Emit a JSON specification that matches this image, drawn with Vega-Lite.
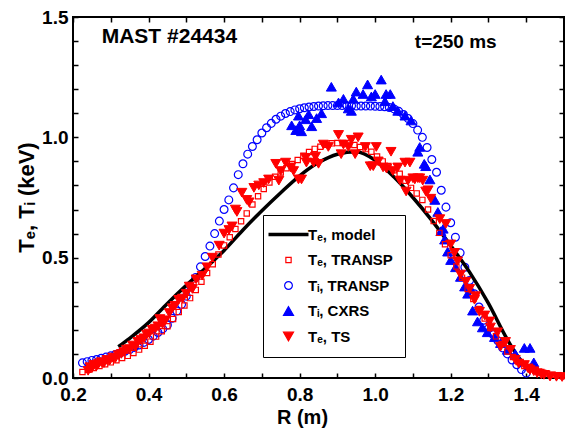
{
"$schema": "https://vega.github.io/schema/vega-lite/v6.json",
"width": 491, "height": 361,
"autosize": {"type": "none"},
"padding": {"left": 73, "top": 17, "right": 1, "bottom": 54},
"background": "white",
"config": {
  "view": {"stroke": "black", "strokeWidth": 2},
  "axis": {"domain": false, "grid": false, "ticks": true, "tickColor": "black", "tickWidth": 1.5, "tickSize": -5,
    "labelFont": "Liberation Sans", "labelFontWeight": "bold", "labelFontSize": 19, "labelColor": "black",
    "titleFont": "Liberation Sans", "titleFontWeight": "bold", "titleColor": "black", "labelOverlap": false, "labelFlush": false}
},
"datasets": {
"pts": [
{"s":"model","R":0.32,"T":0.13},{"s":"model","R":0.35,"T":0.165},{"s":"model","R":0.40,"T":0.23},{"s":"model","R":0.45,"T":0.31},{"s":"model","R":0.50,"T":0.385},{"s":"model","R":0.55,"T":0.455},{"s":"model","R":0.60,"T":0.53},{"s":"model","R":0.65,"T":0.615},{"s":"model","R":0.70,"T":0.695},{"s":"model","R":0.75,"T":0.77},{"s":"model","R":0.80,"T":0.84},{"s":"model","R":0.85,"T":0.895},{"s":"model","R":0.90,"T":0.93},{"s":"model","R":0.95,"T":0.94},{"s":"model","R":1.00,"T":0.905},{"s":"model","R":1.05,"T":0.835},{"s":"model","R":1.10,"T":0.75},{"s":"model","R":1.15,"T":0.655},{"s":"model","R":1.20,"T":0.55},{"s":"model","R":1.25,"T":0.44},{"s":"model","R":1.30,"T":0.31},{"s":"model","R":1.35,"T":0.16},{"s":"model","R":1.38,"T":0.085},{"s":"model","R":1.41,"T":0.04},
{"s":"teT","R":0.225,"T":0.025},{"s":"teT","R":0.240,"T":0.034},{"s":"teT","R":0.255,"T":0.042},{"s":"teT","R":0.270,"T":0.050},{"s":"teT","R":0.285,"T":0.057},{"s":"teT","R":0.300,"T":0.065},{"s":"teT","R":0.315,"T":0.074},{"s":"teT","R":0.330,"T":0.083},{"s":"teT","R":0.345,"T":0.092},{"s":"teT","R":0.360,"T":0.104},{"s":"teT","R":0.375,"T":0.118},{"s":"teT","R":0.390,"T":0.134},{"s":"teT","R":0.405,"T":0.151},{"s":"teT","R":0.420,"T":0.172},{"s":"teT","R":0.435,"T":0.194},{"s":"teT","R":0.450,"T":0.215},{"s":"teT","R":0.465,"T":0.245},{"s":"teT","R":0.480,"T":0.274},{"s":"teT","R":0.495,"T":0.301},{"s":"teT","R":0.510,"T":0.332},{"s":"teT","R":0.525,"T":0.366},{"s":"teT","R":0.540,"T":0.400},{"s":"teT","R":0.555,"T":0.436},{"s":"teT","R":0.570,"T":0.473},{"s":"teT","R":0.585,"T":0.513},{"s":"teT","R":0.600,"T":0.551},{"s":"teT","R":0.615,"T":0.585},{"s":"teT","R":0.630,"T":0.619},{"s":"teT","R":0.645,"T":0.651},{"s":"teT","R":0.660,"T":0.684},{"s":"teT","R":0.675,"T":0.721},{"s":"teT","R":0.690,"T":0.755},{"s":"teT","R":0.705,"T":0.785},{"s":"teT","R":0.720,"T":0.812},{"s":"teT","R":0.735,"T":0.836},{"s":"teT","R":0.750,"T":0.854},{"s":"teT","R":0.765,"T":0.872},{"s":"teT","R":0.780,"T":0.889},{"s":"teT","R":0.795,"T":0.906},{"s":"teT","R":0.810,"T":0.923},{"s":"teT","R":0.825,"T":0.939},{"s":"teT","R":0.840,"T":0.952},{"s":"teT","R":0.855,"T":0.961},{"s":"teT","R":0.870,"T":0.969},{"s":"teT","R":0.885,"T":0.975},{"s":"teT","R":0.900,"T":0.976},{"s":"teT","R":0.915,"T":0.976},{"s":"teT","R":0.930,"T":0.975},{"s":"teT","R":0.945,"T":0.968},{"s":"teT","R":0.960,"T":0.960},{"s":"teT","R":0.975,"T":0.951},{"s":"teT","R":0.990,"T":0.940},{"s":"teT","R":1.005,"T":0.920},{"s":"teT","R":1.020,"T":0.900},{"s":"teT","R":1.035,"T":0.881},{"s":"teT","R":1.050,"T":0.863},{"s":"teT","R":1.065,"T":0.849},{"s":"teT","R":1.080,"T":0.820},{"s":"teT","R":1.095,"T":0.790},{"s":"teT","R":1.110,"T":0.767},{"s":"teT","R":1.125,"T":0.740},{"s":"teT","R":1.140,"T":0.700},{"s":"teT","R":1.155,"T":0.652},{"s":"teT","R":1.170,"T":0.603},{"s":"teT","R":1.185,"T":0.556},{"s":"teT","R":1.200,"T":0.510},{"s":"teT","R":1.215,"T":0.463},{"s":"teT","R":1.230,"T":0.417},{"s":"teT","R":1.245,"T":0.370},{"s":"teT","R":1.260,"T":0.328},{"s":"teT","R":1.275,"T":0.287},{"s":"teT","R":1.290,"T":0.247},{"s":"teT","R":1.305,"T":0.208},{"s":"teT","R":1.320,"T":0.173},{"s":"teT","R":1.335,"T":0.141},{"s":"teT","R":1.350,"T":0.110},{"s":"teT","R":1.365,"T":0.087},{"s":"teT","R":1.380,"T":0.066},{"s":"teT","R":1.395,"T":0.050},{"s":"teT","R":1.410,"T":0.040},{"s":"teT","R":1.425,"T":0.032},{"s":"teT","R":1.440,"T":0.025},{"s":"teT","R":1.455,"T":0.019},{"s":"teT","R":1.470,"T":0.014},{"s":"teT","R":1.485,"T":0.010},{"s":"teT","R":1.498,"T":0.008},
{"s":"tiT","R":0.225,"T":0.063},{"s":"tiT","R":0.2375,"T":0.068},{"s":"tiT","R":0.25,"T":0.073},{"s":"tiT","R":0.2625,"T":0.077},{"s":"tiT","R":0.275,"T":0.082},{"s":"tiT","R":0.2875,"T":0.087},{"s":"tiT","R":0.30,"T":0.092},{"s":"tiT","R":0.3125,"T":0.098},{"s":"tiT","R":0.325,"T":0.104},{"s":"tiT","R":0.3375,"T":0.111},{"s":"tiT","R":0.35,"T":0.118},{"s":"tiT","R":0.3625,"T":0.127},{"s":"tiT","R":0.375,"T":0.137},{"s":"tiT","R":0.3875,"T":0.148},{"s":"tiT","R":0.40,"T":0.160},{"s":"tiT","R":0.4125,"T":0.174},{"s":"tiT","R":0.425,"T":0.189},{"s":"tiT","R":0.4375,"T":0.204},{"s":"tiT","R":0.45,"T":0.220},{"s":"tiT","R":0.4625,"T":0.248},{"s":"tiT","R":0.475,"T":0.278},{"s":"tiT","R":0.4875,"T":0.306},{"s":"tiT","R":0.50,"T":0.340},{"s":"tiT","R":0.5125,"T":0.378},{"s":"tiT","R":0.525,"T":0.418},{"s":"tiT","R":0.5375,"T":0.462},{"s":"tiT","R":0.55,"T":0.505},{"s":"tiT","R":0.5625,"T":0.548},{"s":"tiT","R":0.575,"T":0.600},{"s":"tiT","R":0.5875,"T":0.652},{"s":"tiT","R":0.60,"T":0.700},{"s":"tiT","R":0.6125,"T":0.740},{"s":"tiT","R":0.625,"T":0.790},{"s":"tiT","R":0.6375,"T":0.845},{"s":"tiT","R":0.65,"T":0.890},{"s":"tiT","R":0.6625,"T":0.930},{"s":"tiT","R":0.675,"T":0.962},{"s":"tiT","R":0.6875,"T":0.990},{"s":"tiT","R":0.70,"T":1.018},{"s":"tiT","R":0.7125,"T":1.040},{"s":"tiT","R":0.725,"T":1.058},{"s":"tiT","R":0.7375,"T":1.075},{"s":"tiT","R":0.75,"T":1.088},{"s":"tiT","R":0.7625,"T":1.099},{"s":"tiT","R":0.775,"T":1.107},{"s":"tiT","R":0.7875,"T":1.114},{"s":"tiT","R":0.80,"T":1.119},{"s":"tiT","R":0.8125,"T":1.123},{"s":"tiT","R":0.825,"T":1.126},{"s":"tiT","R":0.8375,"T":1.128},{"s":"tiT","R":0.85,"T":1.130},{"s":"tiT","R":0.8625,"T":1.131},{"s":"tiT","R":0.875,"T":1.132},{"s":"tiT","R":0.8875,"T":1.132},{"s":"tiT","R":0.90,"T":1.132},{"s":"tiT","R":0.9125,"T":1.132},{"s":"tiT","R":0.925,"T":1.131},{"s":"tiT","R":0.9375,"T":1.131},{"s":"tiT","R":0.95,"T":1.130},{"s":"tiT","R":0.9625,"T":1.130},{"s":"tiT","R":0.975,"T":1.130},{"s":"tiT","R":0.9875,"T":1.130},{"s":"tiT","R":1.00,"T":1.129},{"s":"tiT","R":1.0125,"T":1.128},{"s":"tiT","R":1.025,"T":1.127},{"s":"tiT","R":1.0375,"T":1.124},{"s":"tiT","R":1.05,"T":1.118},{"s":"tiT","R":1.0625,"T":1.108},{"s":"tiT","R":1.075,"T":1.095},{"s":"tiT","R":1.0875,"T":1.078},{"s":"tiT","R":1.10,"T":1.057},{"s":"tiT","R":1.1125,"T":1.030},{"s":"tiT","R":1.125,"T":1.000},{"s":"tiT","R":1.1375,"T":0.958},{"s":"tiT","R":1.15,"T":0.908},{"s":"tiT","R":1.1625,"T":0.855},{"s":"tiT","R":1.175,"T":0.780},{"s":"tiT","R":1.1875,"T":0.710},{"s":"tiT","R":1.20,"T":0.645},{"s":"tiT","R":1.2125,"T":0.585},{"s":"tiT","R":1.225,"T":0.520},{"s":"tiT","R":1.2375,"T":0.460},{"s":"tiT","R":1.25,"T":0.405},{"s":"tiT","R":1.2625,"T":0.350},{"s":"tiT","R":1.275,"T":0.295},{"s":"tiT","R":1.2875,"T":0.240},{"s":"tiT","R":1.30,"T":0.205},{"s":"tiT","R":1.3125,"T":0.180},{"s":"tiT","R":1.325,"T":0.155},{"s":"tiT","R":1.3375,"T":0.125},{"s":"tiT","R":1.35,"T":0.100},{"s":"tiT","R":1.3625,"T":0.075},{"s":"tiT","R":1.375,"T":0.055},{"s":"tiT","R":1.3875,"T":0.035},{"s":"tiT","R":1.40,"T":0.020},
{"s":"cx","R":0.779,"T":1.05},{"s":"cx","R":0.79,"T":1.03},{"s":"cx","R":0.797,"T":1.09},{"s":"cx","R":0.80,"T":1.05},{"s":"cx","R":0.805,"T":1.025},{"s":"cx","R":0.816,"T":1.075},{"s":"cx","R":0.824,"T":1.096},{"s":"cx","R":0.832,"T":1.046},{"s":"cx","R":0.845,"T":1.08},{"s":"cx","R":0.858,"T":1.10},{"s":"cx","R":0.884,"T":1.21},{"s":"cx","R":0.903,"T":1.145},{"s":"cx","R":0.916,"T":1.16},{"s":"cx","R":0.929,"T":1.12},{"s":"cx","R":0.937,"T":1.11},{"s":"cx","R":0.942,"T":1.16},{"s":"cx","R":0.95,"T":1.19},{"s":"cx","R":0.968,"T":1.18},{"s":"cx","R":0.98,"T":1.22},{"s":"cx","R":0.99,"T":1.17},{"s":"cx","R":1.0,"T":1.18},{"s":"cx","R":1.016,"T":1.24},{"s":"cx","R":1.026,"T":1.15},{"s":"cx","R":1.029,"T":1.18},{"s":"cx","R":1.04,"T":1.18},{"s":"cx","R":1.047,"T":1.13},{"s":"cx","R":1.06,"T":1.11},{"s":"cx","R":1.079,"T":1.09},{"s":"cx","R":1.095,"T":1.07},{"s":"cx","R":1.113,"T":0.94},{"s":"cx","R":1.118,"T":0.96},{"s":"cx","R":1.13,"T":0.89},{"s":"cx","R":1.134,"T":0.88},{"s":"cx","R":1.145,"T":0.825},{"s":"cx","R":1.158,"T":0.74},{"s":"cx","R":1.166,"T":0.69},{"s":"cx","R":1.174,"T":0.61},{"s":"cx","R":1.18,"T":0.62},{"s":"cx","R":1.184,"T":0.575},{"s":"cx","R":1.192,"T":0.525},{"s":"cx","R":1.2,"T":0.49},{"s":"cx","R":1.213,"T":0.46},{"s":"cx","R":1.226,"T":0.42},{"s":"cx","R":1.237,"T":0.38},{"s":"cx","R":1.245,"T":0.35},{"s":"cx","R":1.253,"T":0.37},{"s":"cx","R":1.258,"T":0.28},{"s":"cx","R":1.271,"T":0.235},{"s":"cx","R":1.284,"T":0.21},{"s":"cx","R":1.297,"T":0.19},{"s":"cx","R":1.316,"T":0.17},{"s":"cx","R":1.332,"T":0.145},{"s":"cx","R":1.35,"T":0.117},{"s":"cx","R":1.371,"T":0.10},{"s":"cx","R":1.395,"T":0.125},{"s":"cx","R":1.41,"T":0.125},{"s":"cx","R":1.42,"T":0.065},
{"s":"ts","R":0.240,"T":0.030},{"s":"ts","R":0.245,"T":0.045},{"s":"ts","R":0.250,"T":0.040},{"s":"ts","R":0.255,"T":0.055},{"s":"ts","R":0.262,"T":0.048},{"s":"ts","R":0.268,"T":0.060},{"s":"ts","R":0.275,"T":0.066},{"s":"ts","R":0.282,"T":0.062},{"s":"ts","R":0.290,"T":0.075},{"s":"ts","R":0.297,"T":0.072},{"s":"ts","R":0.305,"T":0.085},{"s":"ts","R":0.312,"T":0.082},{"s":"ts","R":0.320,"T":0.095},{"s":"ts","R":0.328,"T":0.100},{"s":"ts","R":0.335,"T":0.108},{"s":"ts","R":0.342,"T":0.118},{"s":"ts","R":0.350,"T":0.120},{"s":"ts","R":0.358,"T":0.135},{"s":"ts","R":0.365,"T":0.130},{"s":"ts","R":0.372,"T":0.150},{"s":"ts","R":0.380,"T":0.158},{"s":"ts","R":0.388,"T":0.165},{"s":"ts","R":0.395,"T":0.180},{"s":"ts","R":0.402,"T":0.185},{"s":"ts","R":0.410,"T":0.200},{"s":"ts","R":0.418,"T":0.205},{"s":"ts","R":0.425,"T":0.215},{"s":"ts","R":0.430,"T":0.245},{"s":"ts","R":0.437,"T":0.225},{"s":"ts","R":0.445,"T":0.240},{"s":"ts","R":0.455,"T":0.270},{"s":"ts","R":0.463,"T":0.290},{"s":"ts","R":0.470,"T":0.300},{"s":"ts","R":0.480,"T":0.325},{"s":"ts","R":0.490,"T":0.330},{"s":"ts","R":0.500,"T":0.350},{"s":"ts","R":0.508,"T":0.380},{"s":"ts","R":0.516,"T":0.370},{"s":"ts","R":0.526,"T":0.410},{"s":"ts","R":0.542,"T":0.425},{"s":"ts","R":0.555,"T":0.460},{"s":"ts","R":0.569,"T":0.500},{"s":"ts","R":0.587,"T":0.550},{"s":"ts","R":0.600,"T":0.600},{"s":"ts","R":0.613,"T":0.615},{"s":"ts","R":0.621,"T":0.630},{"s":"ts","R":0.630,"T":0.700},{"s":"ts","R":0.634,"T":0.690},{"s":"ts","R":0.647,"T":0.770},{"s":"ts","R":0.660,"T":0.740},{"s":"ts","R":0.666,"T":0.730},{"s":"ts","R":0.679,"T":0.790},{"s":"ts","R":0.692,"T":0.800},{"s":"ts","R":0.705,"T":0.810},{"s":"ts","R":0.718,"T":0.825},{"s":"ts","R":0.737,"T":0.890},{"s":"ts","R":0.745,"T":0.820},{"s":"ts","R":0.750,"T":0.860},{"s":"ts","R":0.763,"T":0.895},{"s":"ts","R":0.776,"T":0.875},{"s":"ts","R":0.784,"T":0.860},{"s":"ts","R":0.797,"T":0.825},{"s":"ts","R":0.805,"T":0.825},{"s":"ts","R":0.816,"T":0.915},{"s":"ts","R":0.818,"T":0.895},{"s":"ts","R":0.837,"T":0.895},{"s":"ts","R":0.842,"T":0.920},{"s":"ts","R":0.850,"T":0.890},{"s":"ts","R":0.863,"T":0.970},{"s":"ts","R":0.876,"T":0.960},{"s":"ts","R":0.903,"T":1.010},{"s":"ts","R":0.910,"T":0.930},{"s":"ts","R":0.916,"T":0.970},{"s":"ts","R":0.929,"T":0.960},{"s":"ts","R":0.937,"T":0.990},{"s":"ts","R":0.947,"T":0.930},{"s":"ts","R":0.955,"T":1.000},{"s":"ts","R":0.974,"T":0.960},{"s":"ts","R":0.987,"T":0.880},{"s":"ts","R":0.995,"T":0.880},{"s":"ts","R":1.003,"T":0.960},{"s":"ts","R":1.008,"T":0.900},{"s":"ts","R":1.021,"T":0.875},{"s":"ts","R":1.030,"T":0.870},{"s":"ts","R":1.042,"T":0.940},{"s":"ts","R":1.047,"T":0.860},{"s":"ts","R":1.060,"T":0.875},{"s":"ts","R":1.066,"T":0.820},{"s":"ts","R":1.079,"T":0.895},{"s":"ts","R":1.082,"T":0.775},{"s":"ts","R":1.087,"T":0.820},{"s":"ts","R":1.092,"T":0.895},{"s":"ts","R":1.100,"T":0.830},{"s":"ts","R":1.105,"T":0.825},{"s":"ts","R":1.113,"T":0.830},{"s":"ts","R":1.118,"T":0.830},{"s":"ts","R":1.126,"T":0.820},{"s":"ts","R":1.134,"T":0.775},{"s":"ts","R":1.140,"T":0.780},{"s":"ts","R":1.147,"T":0.745},{"s":"ts","R":1.171,"T":0.660},{"s":"ts","R":1.187,"T":0.640},{"s":"ts","R":1.200,"T":0.555},{"s":"ts","R":1.210,"T":0.520},{"s":"ts","R":1.218,"T":0.485},{"s":"ts","R":1.226,"T":0.430},{"s":"ts","R":1.240,"T":0.400},{"s":"ts","R":1.250,"T":0.370},{"s":"ts","R":1.263,"T":0.325},{"s":"ts","R":1.266,"T":0.340},{"s":"ts","R":1.276,"T":0.275},{"s":"ts","R":1.290,"T":0.260},{"s":"ts","R":1.303,"T":0.235},{"s":"ts","R":1.305,"T":0.210},{"s":"ts","R":1.324,"T":0.190},{"s":"ts","R":1.332,"T":0.130},{"s":"ts","R":1.345,"T":0.150},{"s":"ts","R":1.358,"T":0.117},{"s":"ts","R":1.371,"T":0.075},{"s":"ts","R":1.380,"T":0.060},{"s":"ts","R":1.395,"T":0.054},{"s":"ts","R":1.405,"T":0.040},{"s":"ts","R":1.410,"T":0.033},{"s":"ts","R":1.420,"T":0.028},{"s":"ts","R":1.429,"T":0.020},{"s":"ts","R":1.440,"T":0.015},{"s":"ts","R":1.447,"T":0.013},{"s":"ts","R":1.463,"T":0.006},{"s":"ts","R":1.480,"T":0.005},{"s":"ts","R":1.495,"T":0.004}
],
"notes": [
{"R":0.276,"T":1.39,"text":"MAST #24434","k":"a"},
{"R":1.105,"T":1.37,"text":"t=250 ms","k":"b"}
]
},
"layer": [
{
 "data": {"name": "pts"},
 "transform": [{"filter": "datum.s === 'model'"}],
 "mark": {"type": "point", "opacity": 0},
 "encoding": {
  "x": {"field": "R", "type": "quantitative", "scale": {"domain": [0.2, 1.5], "nice": false, "zero": false},
        "axis": {"orient": "top", "labels": false, "title": null, "values": [0.2,0.3,0.4,0.5,0.6,0.7,0.8,0.9,1.0,1.1,1.2,1.3,1.4,1.5]}},
  "y": {"field": "T", "type": "quantitative", "scale": {"domain": [0, 1.5], "nice": false, "zero": false},
        "axis": {"orient": "right", "labels": false, "title": null, "values": [0,0.1,0.2,0.3,0.4,0.5,0.6,0.7,0.8,0.9,1.0,1.1,1.2,1.3,1.4,1.5]}}
 }
},
{
 "data": {"name": "pts"},
 "transform": [{"filter": "datum.s === 'tiT'"}],
 "mark": {"type": "point", "opacity": 1, "size": 61, "strokeWidth": 1.2},
 "encoding": {
  "x": {"field": "R", "type": "quantitative", "scale": {"domain": [0.2, 1.5], "nice": false, "zero": false},
        "axis": {"orient": "bottom", "values": [0.2,0.3,0.4,0.5,0.6,0.7,0.8,0.9,1.0,1.1,1.2,1.3,1.4,1.5],
                 "labelExpr": "round(datum.value*10) % 2 == 0 && datum.value < 1.45 ? format(datum.value, '.1f') : ''",
                 "labelPadding": 12, "title": "R (m)", "titleFontSize": 20, "titleX": 229, "titleY": 45, "titleBaseline": "alphabetic", "titleAlign": "center"}},
  "y": {"field": "T", "type": "quantitative", "scale": {"domain": [0, 1.5], "nice": false, "zero": false},
        "axis": {"orient": "left", "values": [0,0.1,0.2,0.3,0.4,0.5,0.6,0.7,0.8,0.9,1.0,1.1,1.2,1.3,1.4,1.5],
                 "labelExpr": "round(datum.value*10) % 5 == 0 ? format(datum.value, '.1f') : ''",
                 "labelPadding": 10, "title": "Tₑ, Tᵢ (keV)", "titleFontSize": 22, "titleX": -40, "titleY": 180, "titleAngle": 270, "titleBaseline": "alphabetic", "titleAlign": "center"}},
  "stroke": {"field": "s", "type": "nominal", "scale": {"domain": ["model","teT","tiT","cx","ts"], "range": ["#000000","#ff0000","#0000ff","#0000ff","#ff0000"]}, "legend": {"title": null}},
  "fill": {"field": "s", "type": "nominal", "scale": {"domain": ["model","teT","tiT","cx","ts"], "range": ["transparent","transparent","transparent","#0000ff","#ff0000"]}, "legend": {"title": null}},
  "shape": {"field": "s", "type": "nominal", "scale": {"domain": ["model","teT","tiT","cx","ts"], "range": ["stroke","square","circle","triangle-up","triangle-down"]}, "legend": {"title": null}}
 }
},
{
 "data": {"name": "pts"},
 "transform": [{"filter": "datum.s === 'model'"}],
 "mark": {"type": "line", "strokeWidth": 3.5, "interpolate": "monotone"},
 "encoding": {
  "x": {"field": "R", "type": "quantitative", "scale": {"domain": [0.2, 1.5], "nice": false, "zero": false}, "axis": null},
  "y": {"field": "T", "type": "quantitative", "scale": {"domain": [0, 1.5], "nice": false, "zero": false}, "axis": null},
  "stroke": {"field": "s", "type": "nominal", "scale": {"domain": ["model","teT","tiT","cx","ts"], "range": ["#000000","#ff0000","#0000ff","#0000ff","#ff0000"]},
    "legend": {"title": null, "orient": "none", "legendX": 190, "legendY": 198, "strokeColor": "black", "fillColor": "white",
      "padding": 12, "rowPadding": 9.5, "labelOffset": 12, "symbolOffset": 6,
      "labelFont": "Liberation Sans", "labelFontWeight": "bold", "labelFontSize": 15, "labelColor": "black",
      "labelExpr": "datum.value == 'model' ? 'Tₑ, model' : datum.value == 'teT' ? 'Tₑ, TRANSP' : datum.value == 'tiT' ? 'Tᵢ, TRANSP' : datum.value == 'cx' ? 'Tᵢ, CXRS' : 'Tₑ, TS'",
      "encode": {"symbols": {"update": {
        "size": {"signal": "datum.value == 'model' ? 1600 : datum.value == 'teT' ? 28 : datum.value == 'tiT' ? 60 : 100"},
        "strokeWidth": {"signal": "datum.value == 'model' ? 3.5 : 1.2"},
        "opacity": {"value": 1}}}}}}
 }
},
{
 "data": {"name": "pts"},
 "transform": [{"filter": "datum.s === 'cx'"}],
 "mark": {"type": "point", "opacity": 1, "size": 100, "strokeWidth": 1},
 "encoding": {
  "x": {"field": "R", "type": "quantitative", "scale": {"domain": [0.2, 1.5], "nice": false, "zero": false}, "axis": null},
  "y": {"field": "T", "type": "quantitative", "scale": {"domain": [0, 1.5], "nice": false, "zero": false}, "axis": null},
  "stroke": {"field": "s", "type": "nominal", "scale": {"domain": ["model","teT","tiT","cx","ts"], "range": ["#000000","#ff0000","#0000ff","#0000ff","#ff0000"]}, "legend": {"title": null}},
  "fill": {"field": "s", "type": "nominal", "scale": {"domain": ["model","teT","tiT","cx","ts"], "range": ["transparent","transparent","transparent","#0000ff","#ff0000"]}, "legend": {"title": null}},
  "shape": {"field": "s", "type": "nominal", "scale": {"domain": ["model","teT","tiT","cx","ts"], "range": ["stroke","square","circle","triangle-up","triangle-down"]}, "legend": {"title": null}}
 }
},
{
 "data": {"name": "pts"},
 "transform": [{"filter": "datum.s === 'ts'"}],
 "mark": {"type": "point", "opacity": 1, "size": 100, "strokeWidth": 1},
 "encoding": {
  "x": {"field": "R", "type": "quantitative", "scale": {"domain": [0.2, 1.5], "nice": false, "zero": false}, "axis": null},
  "y": {"field": "T", "type": "quantitative", "scale": {"domain": [0, 1.5], "nice": false, "zero": false}, "axis": null},
  "stroke": {"field": "s", "type": "nominal", "scale": {"domain": ["model","teT","tiT","cx","ts"], "range": ["#000000","#ff0000","#0000ff","#0000ff","#ff0000"]}, "legend": {"title": null}},
  "fill": {"field": "s", "type": "nominal", "scale": {"domain": ["model","teT","tiT","cx","ts"], "range": ["transparent","transparent","transparent","#0000ff","#ff0000"]}, "legend": {"title": null}},
  "shape": {"field": "s", "type": "nominal", "scale": {"domain": ["model","teT","tiT","cx","ts"], "range": ["stroke","square","circle","triangle-up","triangle-down"]}, "legend": {"title": null}}
 }
},
{
 "data": {"name": "pts"},
 "transform": [{"filter": "datum.s === 'teT'"}],
 "mark": {"type": "point", "opacity": 1, "size": 28, "strokeWidth": 1.2},
 "encoding": {
  "x": {"field": "R", "type": "quantitative", "scale": {"domain": [0.2, 1.5], "nice": false, "zero": false}, "axis": null},
  "y": {"field": "T", "type": "quantitative", "scale": {"domain": [0, 1.5], "nice": false, "zero": false}, "axis": null},
  "stroke": {"field": "s", "type": "nominal", "scale": {"domain": ["model","teT","tiT","cx","ts"], "range": ["#000000","#ff0000","#0000ff","#0000ff","#ff0000"]}, "legend": {"title": null}},
  "fill": {"field": "s", "type": "nominal", "scale": {"domain": ["model","teT","tiT","cx","ts"], "range": ["transparent","transparent","transparent","#0000ff","#ff0000"]}, "legend": {"title": null}},
  "shape": {"field": "s", "type": "nominal", "scale": {"domain": ["model","teT","tiT","cx","ts"], "range": ["stroke","square","circle","triangle-up","triangle-down"]}, "legend": {"title": null}}
 }
},
{
 "data": {"name": "notes"},
 "transform": [{"filter": "datum.k === 'a'"}],
 "mark": {"type": "text", "align": "left", "baseline": "alphabetic", "font": "Liberation Sans", "fontWeight": "bold", "fontSize": 21, "color": "black"},
 "encoding": {
  "x": {"field": "R", "type": "quantitative", "scale": {"domain": [0.2, 1.5], "nice": false, "zero": false}, "axis": null},
  "y": {"field": "T", "type": "quantitative", "scale": {"domain": [0, 1.5], "nice": false, "zero": false}, "axis": null},
  "text": {"field": "text"}
 }
},
{
 "data": {"name": "notes"},
 "transform": [{"filter": "datum.k === 'b'"}],
 "mark": {"type": "text", "align": "left", "baseline": "alphabetic", "font": "Liberation Sans", "fontWeight": "bold", "fontSize": 19, "color": "black"},
 "encoding": {
  "x": {"field": "R", "type": "quantitative", "scale": {"domain": [0.2, 1.5], "nice": false, "zero": false}, "axis": null},
  "y": {"field": "T", "type": "quantitative", "scale": {"domain": [0, 1.5], "nice": false, "zero": false}, "axis": null},
  "text": {"field": "text"}
 }
}
],
"resolve": {"axis": {"x": "independent", "y": "independent"}}
}
